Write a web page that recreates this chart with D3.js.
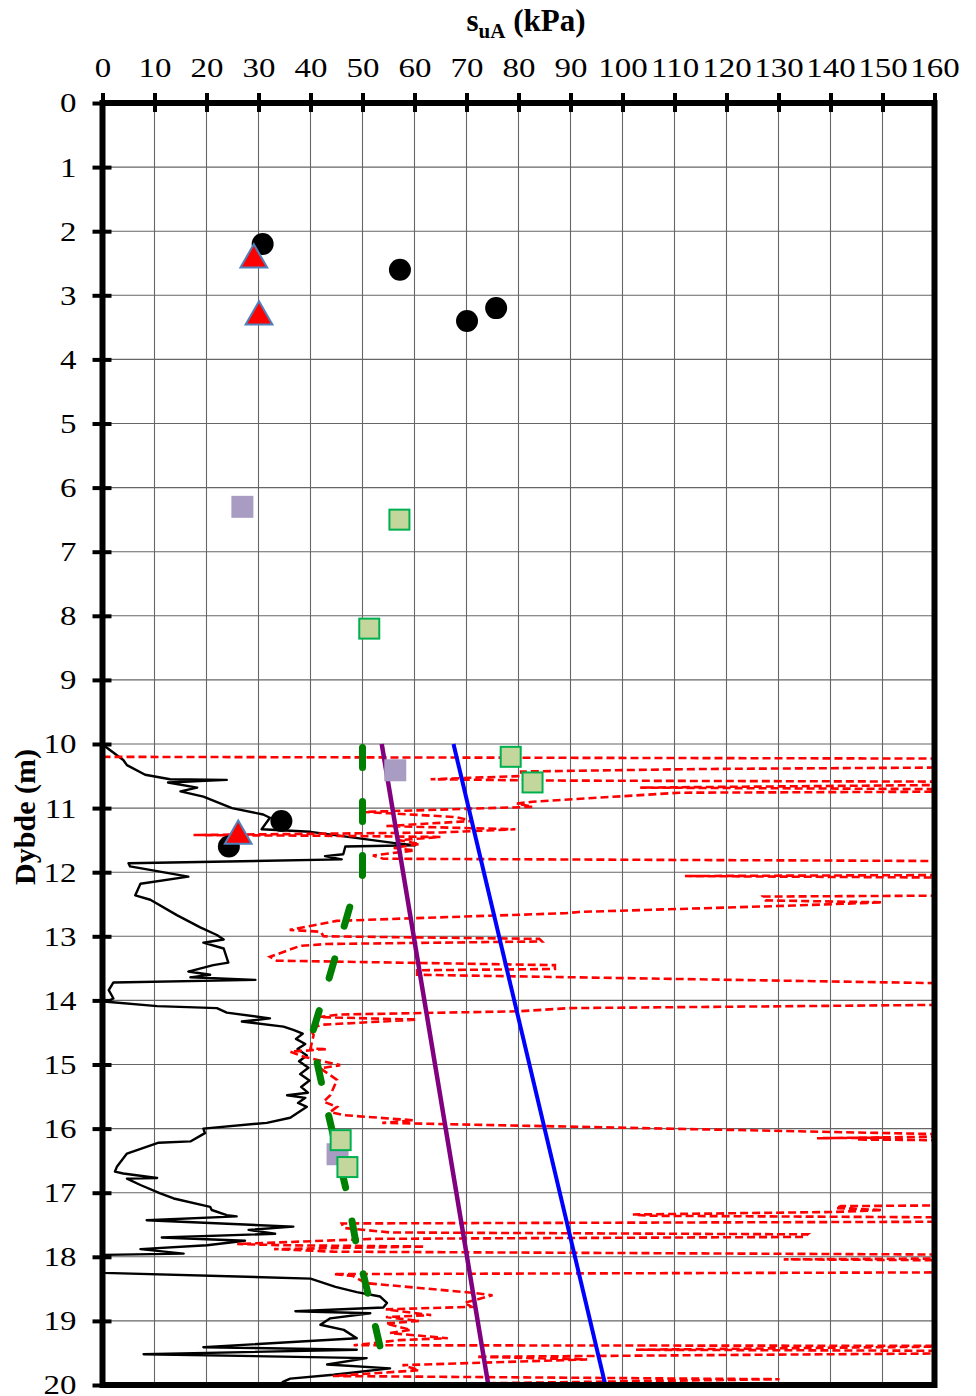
<!DOCTYPE html>
<html>
<head>
<meta charset="utf-8">
<script src="https://cdn.jsdelivr.net/npm/d3@7"></script>
<style>
  body { margin: 0; background: #fff; }
  text { font-family: "Liberation Serif", "Times New Roman", serif; }
</style>
</head>
<body>
<div id="chart"></div>
<script>
// x ticks (kPa) and y ticks (m)
const xTicks = d3.range(0, 161, 10);
const yTicks = d3.range(0, 21, 1);

// point data [kPa, depth m]
const circles = [[30.8, 2.2], [57.2, 2.6], [75.7, 3.2], [70.1, 3.4], [34.4, 11.2], [24.3, 11.6]];
const triangles = [[29.1, 2.43], [30.1, 3.32], [26.1, 11.42]];
const greySquares = [[26.9, 6.3], [56.3, 10.41], [45.2, 16.4]];
const greenSquares = [[57.1, 6.5], [51.3, 8.2], [78.5, 10.2], [82.7, 10.6], [45.8, 16.18], [47.1, 16.6]];

// straight lines
const purpleLine = [[53.7, 10], [74.2, 20]];
const blueLine = [[67.5, 10], [96.7, 20]];

// green dashed profile
const greenProfile = [[50, 10], [50, 12.05], [47.7, 12.5], [43.3, 13.73], [40.2, 14.55], [41.3, 14.98],
  [43.5, 15.8], [47.1, 17.04], [49, 17.9], [50.4, 18.35], [53.8, 19.55], [55, 19.9]];

// black profile
const blackProfile = [[0.2, 10.02], [4, 10.25], [4.7, 10.33], [8.2, 10.48], [13, 10.55], [23.9, 10.56],
  [12.6, 10.6], [18.2, 10.68], [15, 10.74], [19.4, 10.82], [24.9, 11.0], [30.9, 11.1], [32.2, 11.15],
  [30.6, 11.33], [40, 11.37], [56.6, 11.55], [60.1, 11.58], [46.7, 11.6], [46.3, 11.72], [42.8, 11.75],
  [46, 11.8], [5, 11.86], [5.3, 11.91], [16.5, 12.07], [7.3, 12.18], [6.3, 12.36], [9.2, 12.43],
  [14.3, 12.67], [18.8, 12.86], [22, 12.98], [23.3, 13.05], [19.4, 13.1], [23.3, 13.19], [24.2, 13.41],
  [21.3, 13.45], [16.5, 13.55], [20.7, 13.6], [16.9, 13.64], [29.4, 13.68], [2.1, 13.72], [1.2, 13.84],
  [2.1, 13.97], [0.8, 14.02], [10.5, 14.09], [22, 14.12], [23.9, 14.19], [32.2, 14.28], [26.8, 14.33],
  [34.8, 14.41], [36.7, 14.46], [38.5, 14.52], [37.2, 14.6], [39, 14.68], [37.5, 14.76], [39.3, 14.86],
  [37.8, 14.95], [39.6, 15.05], [38, 15.15], [39.8, 15.25], [38.2, 15.35], [39.5, 15.44], [35.5, 15.48],
  [39, 15.52], [37.6, 15.6], [39.3, 15.66], [36.1, 15.83], [31.6, 15.91], [19.4, 16.0], [19.7, 16.07],
  [16.9, 16.2], [10.8, 16.22], [4.7, 16.39], [2.8, 16.59], [2.4, 16.67], [4, 16.7], [10.5, 16.77],
  [4.7, 16.78], [7.3, 16.88], [11.1, 17.01], [13.7, 17.09], [20.7, 17.22], [21, 17.27], [23.9, 17.35],
  [25.8, 17.37], [8.5, 17.43], [36.7, 17.53], [28.1, 17.58], [33.2, 17.64], [11.4, 17.7], [27.4, 17.75],
  [20.1, 17.82], [7.3, 17.88], [15.6, 17.95], [0.2, 17.97], [0.2, 18.25], [40, 18.34], [41.9, 18.39],
  [44.8, 18.47], [48.9, 18.55], [53.4, 18.62], [54.7, 18.72], [54, 18.79], [37.1, 18.85], [51.5, 18.88],
  [43.8, 18.96], [41.9, 19.06], [46.4, 19.14], [48.9, 19.27], [19.4, 19.41], [48.9, 19.45], [7.9, 19.52],
  [50.8, 19.58], [43.2, 19.68], [55.3, 19.74], [44.4, 19.84], [36.1, 19.9], [34.5, 19.96]];

// red dashed profile (values above 160 run off the chart)
const redProfile = [[0, 10.2], [175, 10.23], [175, 10.36], [115, 10.39], [80.5, 10.43], [80.5, 10.5],
  [63.1, 10.55], [85.7, 10.57], [175, 10.59], [175, 10.63], [103.4, 10.68], [175, 10.71], [175, 10.74],
  [111, 10.76], [82.7, 10.9], [79.7, 10.93], [82.7, 10.98], [50.1, 11.06], [55, 11.08], [67.9, 11.14],
  [71.2, 11.2], [54.6, 11.28], [79.4, 11.33], [65, 11.38], [17.5, 11.42], [40, 11.43], [65, 11.45],
  [57, 11.5], [61, 11.56], [56, 11.62], [60, 11.66], [52, 11.74], [54, 11.79], [175, 11.83],
  [175, 12.04], [112, 12.06], [175, 12.09], [175, 12.36], [127, 12.38], [127.5, 12.44], [150, 12.47],
  [133, 12.52], [91.6, 12.62], [89, 12.64], [59, 12.72], [45, 12.76], [36, 12.9], [42, 12.93],
  [42.5, 13.0], [84, 13.04], [84.5, 13.08], [43, 13.12], [38, 13.15], [32.2, 13.32], [33.5, 13.38],
  [87, 13.45], [87, 13.51], [60.5, 13.53], [60.5, 13.6], [175, 13.75], [175, 14.06], [90, 14.12],
  [80, 14.17], [45.6, 14.22], [41.5, 14.26], [60.5, 14.3], [42, 14.38], [40, 14.45], [40.6, 14.54],
  [40, 14.75], [43.2, 14.76], [36.1, 14.8], [38.7, 14.88], [45.7, 15.01], [41.9, 15.06], [45.1, 15.24],
  [43.8, 15.48], [42.5, 15.58], [45.1, 15.66], [43.8, 15.74], [46.4, 15.79], [59.8, 15.87],
  [53.8, 15.91], [175, 16.11], [137.4, 16.15], [150, 16.14], [145, 16.17], [175, 16.19],
  [175, 17.19], [142, 17.21], [141, 17.24], [150, 17.27], [141, 17.3], [102, 17.34], [105, 17.36],
  [175, 17.39], [175, 17.45], [46, 17.48], [46.4, 17.55], [55.3, 17.62], [135.6, 17.65], [135, 17.69],
  [52, 17.72], [25.9, 17.8], [35, 17.82], [62, 17.84], [33, 17.88], [44.4, 17.92], [175, 17.97],
  [175, 18.02], [131, 18.04], [175, 18.06], [175, 18.24], [44.4, 18.27], [48.2, 18.3], [50.6, 18.41],
  [71, 18.56], [75, 18.6], [69.6, 18.72], [71, 18.78], [54.5, 18.82], [63.2, 18.91], [54.5, 18.94],
  [60.9, 19.0], [54.5, 19.04], [59.3, 19.14], [55.3, 19.19], [66.4, 19.27], [57, 19.3], [48.3, 19.38],
  [175, 19.39], [102.6, 19.45], [175, 19.47], [175, 19.5], [71.9, 19.56], [93.2, 19.6], [57.7, 19.69],
  [60.9, 19.77], [44.3, 19.86], [130.2, 19.91], [49, 20.0]];

const W = 976, H = 1396;
const x = d3.scaleLinear().domain([0, 160]).range([102.5, 934.5]);
const y = d3.scaleLinear().domain([0, 20]).range([103, 1385]);
const stretch = 1.22; // tick labels look horizontally widened in the original

const svg = d3.select("#chart").append("svg")
  .attr("width", W).attr("height", H);

svg.append("clipPath").attr("id", "plot-clip")
  .append("rect")
  .attr("x", x(0)).attr("y", y(0))
  .attr("width", x(160) - x(0)).attr("height", y(20) - y(0));

// grid
const grid = svg.append("g");
grid.selectAll("line.gx").data(xTicks.slice(1, -1)).join("line")
  .attr("x1", d => x(d)).attr("x2", d => x(d))
  .attr("y1", y(0)).attr("y2", y(20))
  .attr("stroke", "#666").attr("stroke-width", 1.1);
grid.selectAll("line.gy").data(yTicks.slice(1, -1)).join("line")
  .attr("y1", d => y(d)).attr("y2", d => y(d))
  .attr("x1", x(0)).attr("x2", x(160))
  .attr("stroke", "#666").attr("stroke-width", 1.1);

const line = d3.line().x(d => x(d[0])).y(d => y(d[1]));
const plot = svg.append("g").attr("clip-path", "url(#plot-clip)");

plot.append("path").datum(blackProfile)
  .attr("d", line).attr("fill", "none")
  .attr("stroke", "#000").attr("stroke-width", 2.4).attr("stroke-linejoin", "round");

plot.append("path").datum(redProfile)
  .attr("d", line).attr("fill", "none")
  .attr("stroke", "#ff0000").attr("stroke-width", 2.6)
  .attr("stroke-dasharray", "8 4");

plot.append("path").datum(greenProfile)
  .attr("d", line).attr("fill", "none")
  .attr("stroke", "#008000").attr("stroke-width", 7)
  .attr("stroke-linecap", "round")
  .attr("stroke-dasharray", "20 34")
  .attr("stroke-dashoffset", -3.5);

plot.append("path").datum(purpleLine)
  .attr("d", line).attr("fill", "none")
  .attr("stroke", "#800080").attr("stroke-width", 4.5);

plot.append("path").datum(blueLine)
  .attr("d", line).attr("fill", "none")
  .attr("stroke", "#0000ff").attr("stroke-width", 4);

// markers
const sq = 22;
svg.append("g").selectAll("rect").data(greySquares).join("rect")
  .attr("x", d => x(d[0]) - sq / 2).attr("y", d => y(d[1]) - sq / 2)
  .attr("width", sq).attr("height", sq)
  .attr("fill", "#a99cc2");

svg.append("g").selectAll("rect").data(greenSquares).join("rect")
  .attr("x", d => x(d[0]) - sq / 2 + 1).attr("y", d => y(d[1]) - sq / 2 + 1)
  .attr("width", sq - 2).attr("height", sq - 2)
  .attr("fill", "#c3d69b").attr("stroke", "#00b050").attr("stroke-width", 2);

svg.append("g").selectAll("circle").data(circles).join("circle")
  .attr("cx", d => x(d[0])).attr("cy", d => y(d[1])).attr("r", 11)
  .attr("fill", "#000");

const tri = d3.symbol().type(d3.symbolTriangle).size(310);
svg.append("g").selectAll("path").data(triangles).join("path")
  .attr("d", tri)
  .attr("transform", d => `translate(${x(d[0])},${y(d[1]) + 1})`)
  .attr("fill", "#ff0000").attr("stroke", "#4f81bd").attr("stroke-width", 2);

// frame
svg.append("rect")
  .attr("x", x(0)).attr("y", y(0))
  .attr("width", x(160) - x(0)).attr("height", y(20) - y(0))
  .attr("fill", "none").attr("stroke", "#000").attr("stroke-width", 6);

// axes
const xAxis = svg.append("g")
  .attr("transform", `translate(0,${y(0)})`)
  .call(d3.axisTop(x).tickValues(xTicks).tickSize(10).tickPadding(16));
xAxis.select(".domain").remove();
xAxis.selectAll(".tick line").attr("y1", 9).attr("y2", -10)
  .attr("stroke", "#000").attr("stroke-width", 4);
xAxis.selectAll(".tick text")
  .attr("font-family", "Liberation Serif, serif").attr("font-size", 27).attr("fill", "#000")
  .attr("transform", `scale(${stretch},1)`);

const yAxis = svg.append("g")
  .attr("transform", `translate(${x(0)},0)`)
  .call(d3.axisLeft(y).tickValues(yTicks).tickSize(10).tickPadding(16));
yAxis.select(".domain").remove();
yAxis.selectAll(".tick line").attr("x1", 9).attr("x2", -10)
  .attr("stroke", "#000").attr("stroke-width", 4);
yAxis.selectAll(".tick text")
  .attr("font-family", "Liberation Serif, serif").attr("font-size", 27).attr("fill", "#000")
  .attr("x", -26 / stretch)
  .attr("dy", "0.33em")
  .attr("transform", `scale(${stretch},1)`);

// titles
const title = svg.append("text")
  .attr("x", 526).attr("y", 31)
  .attr("text-anchor", "middle")
  .attr("font-weight", "bold").attr("font-size", 31);
title.append("tspan").text("s");
title.append("tspan").attr("font-size", 21).attr("dy", 7).text("uA");
title.append("tspan").attr("dy", -7).text(" (kPa)");

svg.append("text")
  .attr("transform", `translate(35,817) rotate(-90)`)
  .attr("text-anchor", "middle")
  .attr("font-weight", "bold").attr("font-size", 30)
  .text("Dybde (m)");
</script>
</body>
</html>
